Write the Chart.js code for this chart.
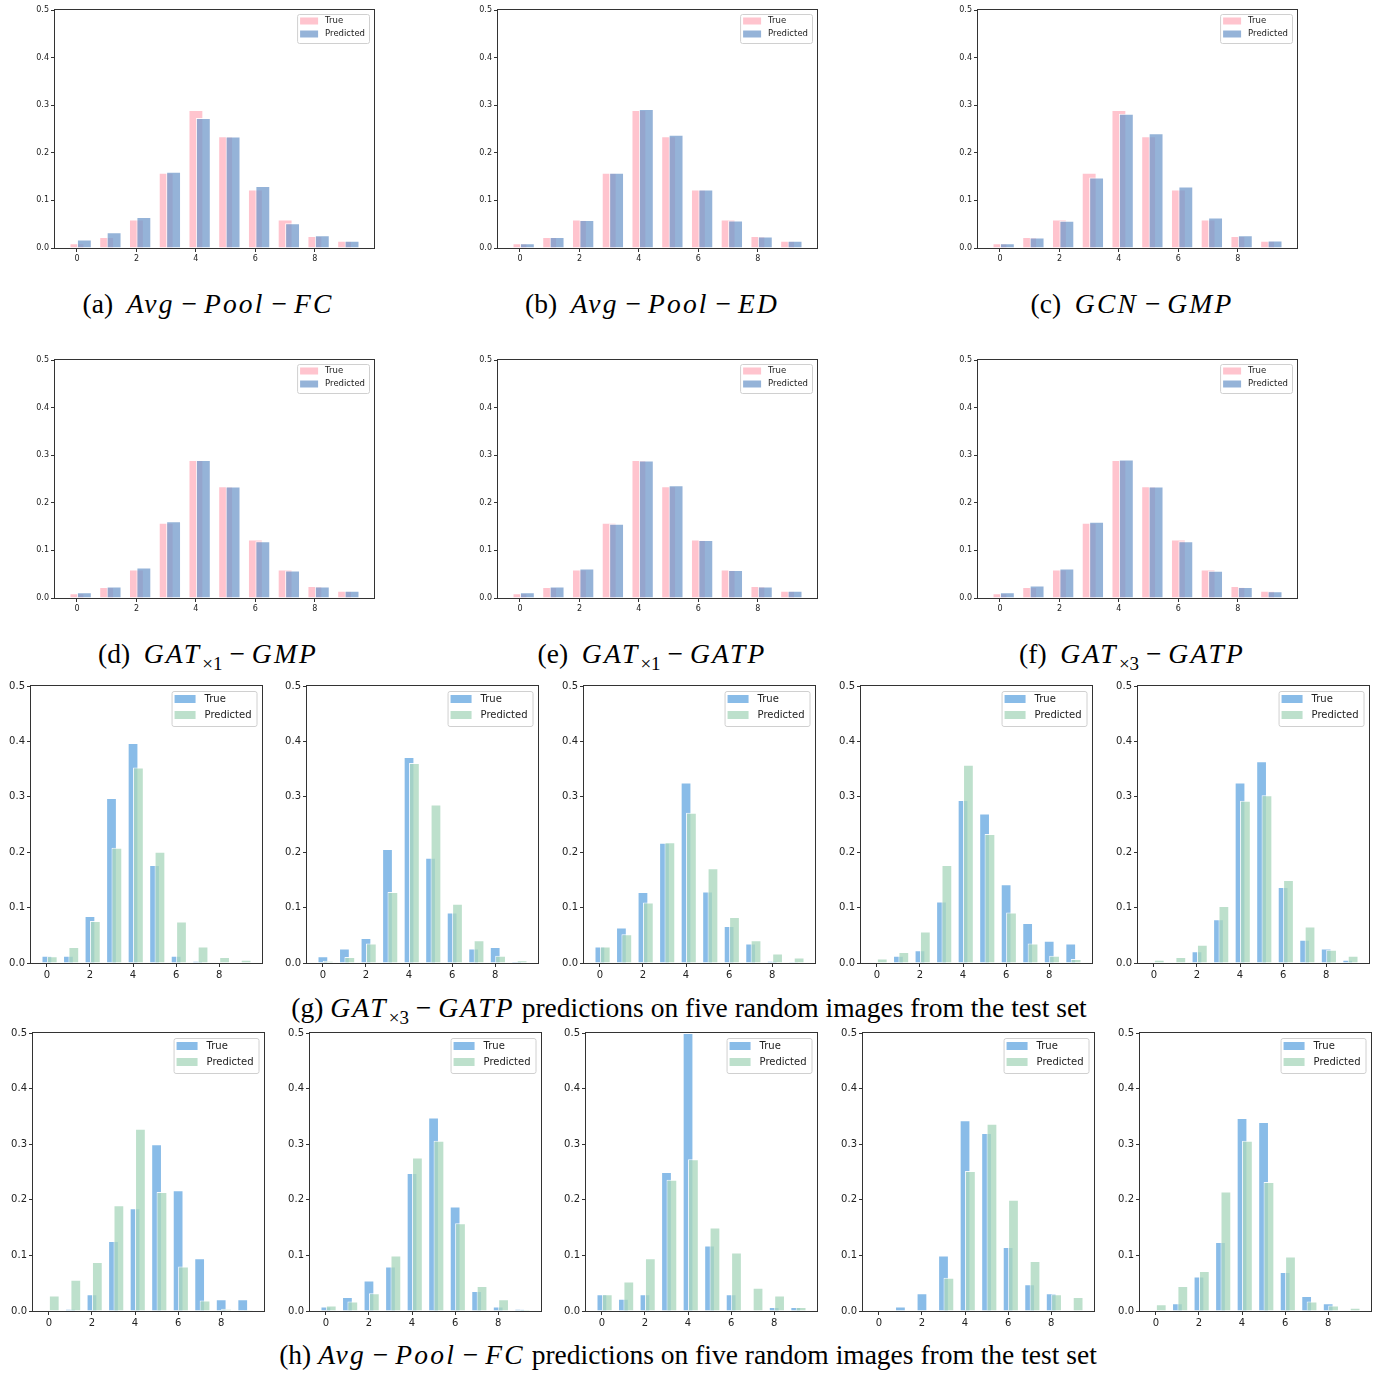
<!DOCTYPE html>
<html>
<head>
<meta charset="utf-8">
<script src="https://cdn.jsdelivr.net/npm/chart.js@4.4.1/dist/chart.umd.min.js"></script>
<style>
  body { margin: 0; background: #fff; width: 1383px; height: 1374px; position: relative; overflow: hidden; }
  .panel { position: absolute; }
  .cap { position: absolute; font-family: "Liberation Serif", "DejaVu Serif", serif; font-size: 27.5px; line-height: 30px;
         color: #000; white-space: nowrap; transform: translateX(-50%); }
  .cap i { letter-spacing: 0.08em; }
  .cap .m { margin: 0 0.25em; }
  .cap sub { font-size: 19px; line-height: 0; margin-left: 1px; }
</style>
</head>
<body>
<script>
// bins 0..9 of the count histogram
const categories = [0, 1, 2, 3, 4, 5, 6, 7, 8, 9];

// (a)-(f): dataset distribution vs. averaged predictions
const trueDist = [0.010, 0.023, 0.060, 0.158, 0.290, 0.235, 0.123, 0.060, 0.025, 0.015];
const predAvgPoolFC = [0.018, 0.033, 0.065, 0.160, 0.273, 0.234, 0.130, 0.052, 0.027, 0.015];
const predAvgPoolED = [0.010, 0.023, 0.059, 0.158, 0.292, 0.238, 0.123, 0.058, 0.024, 0.015];
const predGcnGmp = [0.010, 0.022, 0.057, 0.148, 0.282, 0.241, 0.129, 0.064, 0.027, 0.016];
const predGat1Gmp = [0.012, 0.024, 0.064, 0.161, 0.290, 0.234, 0.119, 0.058, 0.024, 0.015];
const predGat1Gatp = [0.012, 0.024, 0.062, 0.156, 0.289, 0.237, 0.122, 0.059, 0.024, 0.015];
const predGat3Gatp = [0.012, 0.026, 0.062, 0.160, 0.291, 0.234, 0.119, 0.057, 0.023, 0.014];

// (g): GAT x3 - GATP on five test images
const gTrue1 = [0.013, 0.013, 0.085, 0.298, 0.397, 0.177, 0.013, 0.004, 0.000, 0.000];
const gPred1 = [0.012, 0.029, 0.076, 0.208, 0.353, 0.201, 0.075, 0.030, 0.011, 0.006];
const gTrue2 = [0.012, 0.026, 0.045, 0.206, 0.372, 0.190, 0.091, 0.026, 0.029, 0.003];
const gPred2 = [0.004, 0.011, 0.035, 0.128, 0.361, 0.286, 0.107, 0.041, 0.013, 0.005];
const gTrue3 = [0.030, 0.064, 0.128, 0.217, 0.326, 0.129, 0.067, 0.035, 0.004, 0.002];
const gPred3 = [0.030, 0.052, 0.109, 0.218, 0.271, 0.171, 0.083, 0.041, 0.017, 0.010];
const gTrue4 = [0.000, 0.013, 0.023, 0.111, 0.294, 0.270, 0.142, 0.072, 0.040, 0.035];
const gPred4 = [0.008, 0.020, 0.057, 0.177, 0.358, 0.233, 0.091, 0.035, 0.013, 0.007];
const gTrue5 = [0.000, 0.000, 0.021, 0.079, 0.326, 0.364, 0.137, 0.042, 0.026, 0.006];
const gPred5 = [0.006, 0.011, 0.033, 0.103, 0.293, 0.303, 0.150, 0.066, 0.024, 0.013];

// (h): Avg - Pool - FC on five test images
const hTrue1 = [0.000, 0.004, 0.030, 0.126, 0.185, 0.300, 0.217, 0.095, 0.021, 0.021];
const hPred1 = [0.028, 0.056, 0.088, 0.190, 0.328, 0.214, 0.080, 0.019, 0.004, 0.002];
const hTrue2 = [0.008, 0.025, 0.055, 0.080, 0.248, 0.348, 0.188, 0.036, 0.008, 0.004];
const hPred2 = [0.010, 0.017, 0.032, 0.100, 0.276, 0.306, 0.158, 0.045, 0.021, 0.003];
const hTrue3 = [0.030, 0.022, 0.030, 0.250, 0.500, 0.118, 0.030, 0.000, 0.007, 0.007];
const hPred3 = [0.030, 0.053, 0.095, 0.236, 0.273, 0.150, 0.105, 0.042, 0.028, 0.007];
const hTrue4 = [0.000, 0.008, 0.032, 0.100, 0.343, 0.320, 0.115, 0.048, 0.032, 0.000];
const hPred4 = [0.000, 0.000, 0.000, 0.060, 0.252, 0.337, 0.200, 0.090, 0.030, 0.025];
const hTrue5 = [0.000, 0.014, 0.062, 0.124, 0.347, 0.340, 0.070, 0.027, 0.014, 0.000];
const hPred5 = [0.012, 0.045, 0.072, 0.215, 0.306, 0.232, 0.098, 0.017, 0.010, 0.006];

const yTicks = [0, 0.1, 0.2, 0.3, 0.4, 0.5];

// styles
const topStyle = {
  trueColor: 'rgb(255,196,206)', predColor: 'rgba(117,156,204,0.77)',
  font: 8, yAxisW: 24, xAxisH: 17, tickPad: 2,
  legend: { font: 8.5, mr: 5, mt: 4, sx: 3, sw: 18, sh: 7, tx: 28, r1: 7, r2: 20, bh: 29, pr: 4 }
};
const botStyle = {
  trueColor: 'rgb(137,188,232)', predColor: 'rgba(170,215,190,0.78)',
  font: 10, yAxisW: 28, xAxisH: 20, tickPad: 2,
  legend: { font: 10, mr: 5.5, mt: 5, sx: 3, sw: 21, sh: 8, tx: 33, r1: 8, r2: 24, bh: 35, pr: 5 }
};

const FONT = '"DejaVu Sans", sans-serif';

const insideLegend = {
  id: 'insideLegend',
  afterDatasetsDraw(chart, args, o) {
    const { ctx, chartArea: a } = chart;
    ctx.save();
    ctx.font = o.font + 'px ' + FONT;
    const sets = chart.data.datasets;
    const tw = Math.max(...sets.map(d => ctx.measureText(d.label).width));
    const bw = o.tx + tw + o.pr;
    const bx = a.right - o.mr - bw, by = a.top + o.mt;
    ctx.fillStyle = 'rgba(255,255,255,0.8)';
    ctx.strokeStyle = '#d0d0d0';
    ctx.lineWidth = 1;
    ctx.beginPath();
    ctx.roundRect(bx + 0.5, by + 0.5, bw, o.bh, 2);
    ctx.fill(); ctx.stroke();
    [o.r1, o.r2].forEach((ry, i) => {
      ctx.fillStyle = sets[i].backgroundColor;
      ctx.fillRect(bx + o.sx, by + ry - o.sh / 2, o.sw, o.sh);
      ctx.fillStyle = '#222';
      ctx.textBaseline = 'middle';
      ctx.textAlign = 'left';
      ctx.fillText(sets[i].label, bx + o.tx, by + ry);
    });
    ctx.restore();
  }
};

const frame = {
  id: 'frame',
  afterDraw(chart) {
    const { ctx, chartArea: a } = chart;
    ctx.save();
    ctx.strokeStyle = '#333';
    ctx.lineWidth = 1;
    ctx.strokeRect(Math.round(a.left) - 0.5, Math.round(a.top) - 0.5,
                   Math.round(a.right - a.left) + 1, Math.round(a.bottom - a.top) + 1);
    ctx.restore();
  }
};

function panel(left, top, w, h, trueVals, predVals, st) {
  const padTop = 10, padRight = 4;
  const W = w + st.yAxisW + padRight, H = h + padTop + st.xAxisH;
  const div = document.createElement('div');
  div.className = 'panel';
  div.style.left = (left - st.yAxisW) + 'px';
  div.style.top = (top - padTop) + 'px';
  div.style.width = W + 'px';
  div.style.height = H + 'px';
  const cv = document.createElement('canvas');
  cv.width = W; cv.height = H;
  cv.style.width = W + 'px'; cv.style.height = H + 'px';
  div.appendChild(cv);
  document.body.appendChild(div);

  const shift = 0.25; // predicted bar drawn a quarter bin to the right
  new Chart(cv.getContext('2d'), {
    type: 'bar',
    data: {
      datasets: [
        { label: 'True', order: 1, data: categories.map((c, i) => ({ x: c, y: trueVals[i] })),
          backgroundColor: st.trueColor, borderColor: 'rgba(255,255,255,0.9)', borderWidth: 1, borderSkipped: 'start' },
        { label: 'Predicted', order: 0, data: categories.map((c, i) => ({ x: c + shift, y: predVals[i] })),
          backgroundColor: st.predColor, borderColor: 'rgba(255,255,255,0.9)', borderWidth: 1, borderSkipped: 'start' }
      ]
    },
    options: {
      responsive: false,
      animation: false,
      devicePixelRatio: 1,
      layout: { padding: { top: padTop, right: padRight, left: 0, bottom: 0 } },
      datasets: { bar: { grouped: false, categoryPercentage: 1, barPercentage: 2 } },
      plugins: {
        legend: { display: false },
        tooltip: { enabled: false },
        insideLegend: st.legend
      },
      scales: {
        x: {
          type: 'linear', offset: false, min: -0.7375, max: 9.9875,
          afterFit: s => { s.height = st.xAxisH; },
          border: { display: false },
          grid: { display: true, offset: false, drawOnChartArea: false, drawTicks: true, tickLength: 4, color: '#333' },
          ticks: { stepSize: 2, includeBounds: false, padding: st.tickPad, color: '#222',
                   font: { family: FONT, size: st.font }, maxRotation: 0 }
        },
        y: {
          min: yTicks[0], max: yTicks[yTicks.length - 1],
          afterFit: s => { s.width = st.yAxisW; },
          afterBuildTicks: s => { s.ticks = yTicks.map(v => ({ value: v })); },
          border: { display: false },
          grid: { display: true, drawOnChartArea: false, drawTicks: true, tickLength: 4, color: '#333' },
          ticks: { padding: st.tickPad, color: '#222', font: { family: FONT, size: st.font },
                   callback: v => Number(v).toFixed(1) }
        }
      }
    },
    plugins: [insideLegend, frame]
  });
}

function caption(cx, cy, html) {
  const d = document.createElement('div');
  d.className = 'cap';
  d.style.left = cx + 'px';
  d.style.top = (cy - 15) + 'px';
  d.innerHTML = html;
  document.body.appendChild(d);
}

const M = '<span class="m">−</span>';

// top two rows
panel(55, 10, 319, 238, trueDist, predAvgPoolFC, topStyle);
panel(498, 10, 319, 238, trueDist, predAvgPoolED, topStyle);
panel(978, 10, 319, 238, trueDist, predGcnGmp, topStyle);
panel(55, 360, 319, 238, trueDist, predGat1Gmp, topStyle);
panel(498, 360, 319, 238, trueDist, predGat1Gatp, topStyle);
panel(978, 360, 319, 238, trueDist, predGat3Gatp, topStyle);

caption(208, 304, '(a)&nbsp; <i>Avg</i>' + M + '<i>Pool</i>' + M + '<i>FC</i>');
caption(652, 304, '(b)&nbsp; <i>Avg</i>' + M + '<i>Pool</i>' + M + '<i>ED</i>');
caption(1132, 304, '(c)&nbsp; <i>GCN</i>' + M + '<i>GMP</i>');
caption(208, 654, '(d)&nbsp; <i>GAT</i><sub>×1</sub>' + M + '<i>GMP</i>');
caption(652, 654, '(e)&nbsp; <i>GAT</i><sub>×1</sub>' + M + '<i>GATP</i>');
caption(1132, 654, '(f)&nbsp; <i>GAT</i><sub>×3</sub>' + M + '<i>GATP</i>');

// row g
const gT = [gTrue1, gTrue2, gTrue3, gTrue4, gTrue5];
const gP = [gPred1, gPred2, gPred3, gPred4, gPred5];
const gLeft = [31, 307, 584, 861, 1138];
gLeft.forEach((x, i) => panel(x, 686, 231, 277, gT[i], gP[i], botStyle));
caption(689, 1008, '(g) <i>GAT</i><sub>×3</sub>' + M + '<i>GATP</i> predictions on five random images from the test set');

// row h
const hT = [hTrue1, hTrue2, hTrue3, hTrue4, hTrue5];
const hP = [hPred1, hPred2, hPred3, hPred4, hPred5];
const hLeft = [33, 310, 586, 863, 1140];
hLeft.forEach((x, i) => panel(x, 1033, 231, 278, hT[i], hP[i], botStyle));
caption(688, 1355, '(h) <i>Avg</i>' + M + '<i>Pool</i>' + M + '<i>FC</i> predictions on five random images from the test set');
</script>
</body>
</html>
